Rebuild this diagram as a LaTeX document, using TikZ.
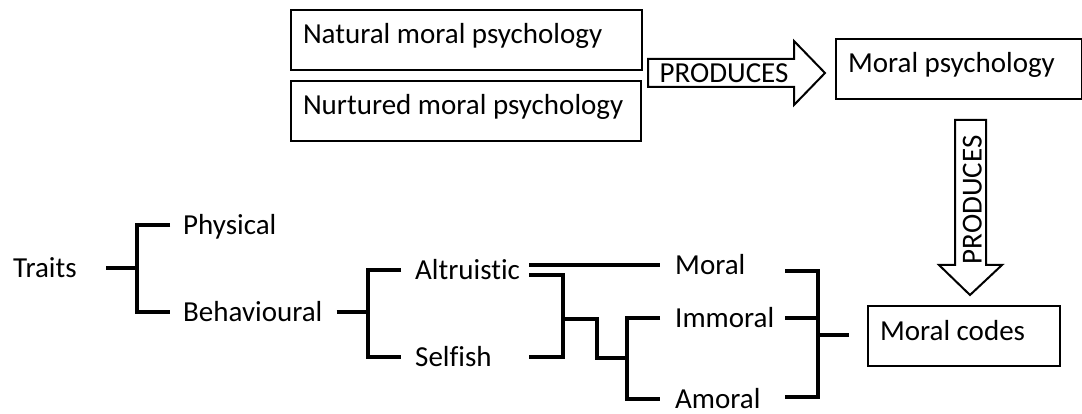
\documentclass[tikz,border=0pt]{standalone}
\usepackage{fontspec}
\setmainfont{Carlito}[Ligatures=NoCommon]
\usetikzlibrary{calc}

\tikzset{
  txt/.style={font=\fontsize{29}{34}\selectfont},
  psybox/.style={txt, draw, line width=2pt, anchor=north west, align=flush left,
    inner xsep=12pt, inner ysep=12pt, text height=22pt, text depth=14pt},
  lbl/.style={txt, anchor=west, inner sep=0pt, text height=19pt, text depth=0pt},
  branch/.style={line width=3.5pt},
  blockarrow/.style={draw, line width=2pt, line join=miter}
}

\begin{document}
\begin{tikzpicture}[x=1pt,y=-1pt]
    \useasboundingbox (0,0) rectangle (1082,414);

    % psychology boxes
    \node[psybox, text width=327pt] (natural) at (290,9) {Natural moral psychology};
    \node[psybox, text width=326pt] (nurtured) at (290,80) {Nurtured moral psychology};
    \node[psybox, text width=222pt] (moralpsy) at (835,38) {Moral psychology};
    \node[psybox, text width=168pt] (codes) at (867,305) {Moral codes};

    % block arrows
    \coordinate (htail) at ([xshift=5pt,yshift=-2pt]natural.south east);
    \draw[blockarrow] (htail) ++(0,-14) -- ++(146,0) -- ++(0,-18) -- ++(31,32)
        -- ++(-31,32) -- ++(0,-18) -- ++(-146,0) -- cycle;
    \node[lbl, anchor=center] (prodh) at ($(htail)+(76,0)$) {PRODUCES};

    \coordinate (vtail) at ([xshift=11pt,yshift=-20pt]moralpsy.south);
    \draw[blockarrow] (vtail) ++(-15,0) -- ++(31,0) -- ++(0,145) -- ++(16,0) -- ++(-32,30)
        -- ++(-31,-30) -- ++(16,0) -- cycle;
    \node[lbl, anchor=center, rotate=90] (prodv) at ($(vtail)+(2,80)$) {PRODUCES};

    % tree labels
    \node[lbl] (traits) at (13,268) {Traits};
    \node[lbl] (physical) at (183,225) {Physical};
    \node[lbl] (behavioural) at (183,312) {Behavioural};
    \node[lbl] (altruistic) at (415,270) {Altruistic};
    \node[lbl] (selfish) at (415,357) {Selfish};
    \node[lbl] (moral) at (675,265) {Moral};
    \node[lbl] (immoral) at (675,318) {Immoral};
    \node[lbl] (amoral) at (675,399) {Amoral};

    % junctions
    \coordinate (jtraits) at (137,268);
    \coordinate (jbeh) at (368,312);
    \coordinate (altend) at ([xshift=9pt]altruistic.east);
    \coordinate (jself) at (563,319);
    \coordinate (jmix) at (627,358);
    \coordinate (jcodes) at (818,335);

    % Traits -> Physical / Behavioural
    \draw[branch] (jtraits) -- ++(-31,0);
    \draw[branch] ([xshift=-13pt]physical.west) -| (jtraits |- behavioural.west)
        -- ([xshift=-13pt]behavioural.west);

    % Behavioural -> Altruistic / Selfish
    \draw[branch] ([xshift=14pt]behavioural.east) -- (jbeh);
    \draw[branch] ([xshift=-14pt]altruistic.west) -| (jbeh |- selfish.west)
        -- ([xshift=-14pt]selfish.west);

    % Altruistic -> Moral, Altruistic + Selfish -> Immoral / Amoral
    \draw[branch] ([yshift=5pt]altend) -- ([xshift=-15pt]moral.west);
    \draw[branch] ([yshift=-5pt]altend) -| (jself |- selfish.east) -- (altend |- selfish.east);
    \draw[branch] (jself) -- ++(34,0) |- (jmix);
    \draw[branch] ([xshift=-15pt]immoral.west) -| (jmix) |- ([xshift=-15pt]amoral.west);

    % Moral / Immoral / Amoral -> Moral codes
    \draw[branch] (785,271) -| (jcodes) |- (785,397);
    \draw[branch] (785,318) -- (jcodes |- 785,318);
    \draw[branch] (jcodes) -- ([xshift=-18pt]codes.west |- jcodes);
\end{tikzpicture}
\end{document}
